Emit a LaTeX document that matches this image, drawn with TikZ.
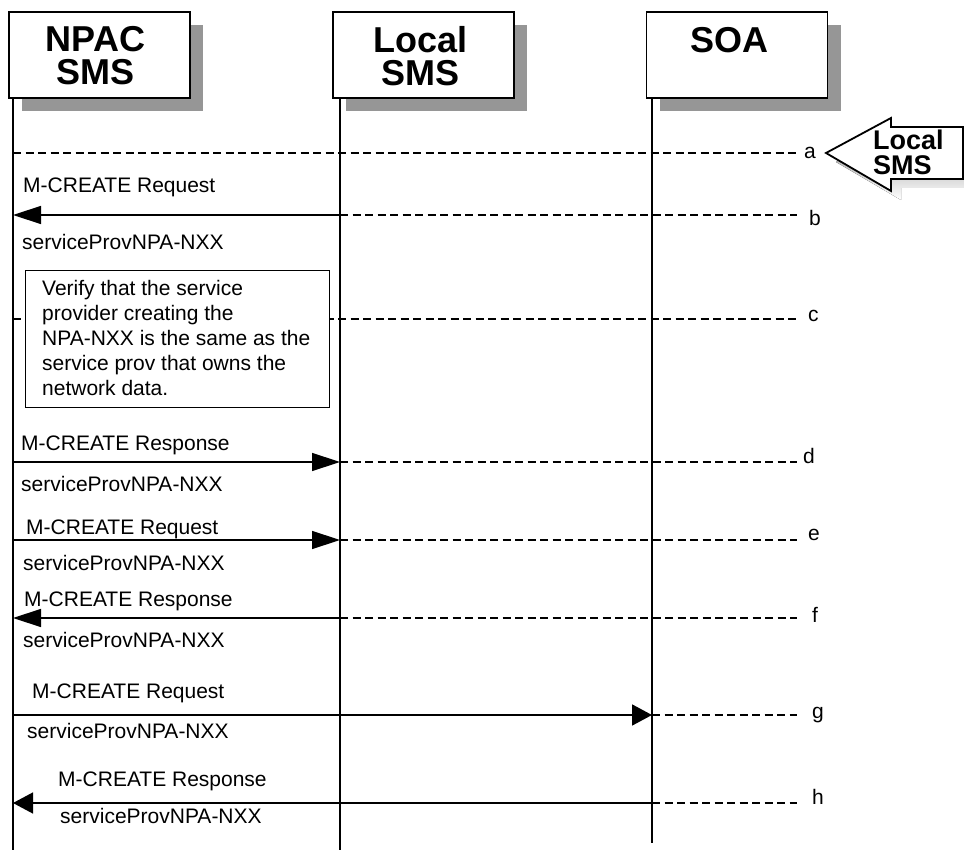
\documentclass[tikz,border=0pt]{standalone}
\usepackage{fontspec}
\setmainfont{Liberation Sans}
\usetikzlibrary{arrows.meta}
\definecolor{shade}{RGB}{150,150,150}
\tikzset{
  hdrbox/.style={draw=black, line width=1.8pt, fill=white, minimum width=181pt, minimum height=86pt, inner sep=0pt},
  hdrshadow/.style={fill=shade, draw=none, minimum width=181pt, minimum height=86pt, inner sep=0pt},
  hdrtext/.style={font=\bfseries\fontsize{36}{33}\selectfont, align=center, inner sep=0pt, anchor=north},
  life/.style={line width=1.3pt},
  msg/.style={line width=1.4pt},
  dsh/.style={line width=1.3pt, dash pattern=on 8pt off 4.5pt},
  bighead/.style={-{Triangle[length=28pt,width=18pt]}},
  smallhead/.style={-{Triangle[length=20pt,width=21pt]}},
  txt/.style={font=\fontsize{21}{25}\selectfont, inner sep=0pt, anchor=base west},
  notebox/.style={draw=black, line width=1.2pt, fill=white, anchor=north west, minimum width=304pt, minimum height=137pt, inner sep=0pt},
  notetext/.style={font=\fontsize{21}{25}\selectfont, align=left, inner sep=0pt, anchor=north west},
}
\begin{document}
\begin{tikzpicture}[x=1pt,y=-1pt]
\useasboundingbox (0,0) rectangle (964,850);
% header shadows
\node[hdrshadow] (npacsh) at (112.5,68) {};
\node[hdrshadow] (localsh) at (436.5,68) {};
\node[hdrshadow] (soash) at (750,68) {};
% header boxes
\node[hdrbox] (npac) at (99.5,55) {};
\node[hdrbox] (local) at (423.5,55) {};
\node[hdrbox] (soa) at (737,55) {};
\node[hdrtext] (npact) at ([xshift=-4pt,yshift=-15pt]npac.north) {NPAC\\SMS};
\node[hdrtext] (localt) at ([xshift=-3pt,yshift=-15pt]local.north) {Local\\SMS};
\node[hdrtext] (soat) at ([xshift=-8pt,yshift=-16pt]soa.north) {SOA};
% lifelines
\coordinate (npacEnd) at (13,850);
\coordinate (localEnd) at (340,850);
\coordinate (soaEnd) at (652,843);
\draw[life] (npac.south -| npacEnd) -- (npacEnd);
\draw[life] (local.south -| localEnd) -- (localEnd);
\draw[life] (soa.south -| soaEnd) -- (soaEnd);
% block arrow "Local SMS"
\begin{scope}[shift={(10,9)}]
  \fill[shade] (826,153) -- (891,118) -- (891,127) -- (963,127) -- (963,179) -- (891,179) -- (891,191) -- cycle;
\end{scope}
\draw[line width=1.8pt, fill=white] (826,153) -- (891,118) -- (891,127) -- (963,127) -- (963,179) -- (891,179) -- (891,191) -- cycle;
\node[font=\bfseries\fontsize{27}{25}\selectfont, align=left, inner sep=0pt, anchor=north west] (blk) at (873,130) {Local\\SMS};
% a
\coordinate (a0) at (13,153); \coordinate (a1) at (797,153);
\draw[dsh] (a0) -- (a1);
\node[txt] (la) at (804,159) {a};
% b
\coordinate (b0) at (13,215); \coordinate (b1) at (340,215); \coordinate (b2) at (797,215);
\draw[msg,bighead] (b1) -- (b0);
\draw[dsh] (b1) -- (b2);
\node[txt] (bt1) at (23,193) {M-CREATE Request};
\node[txt] (bt2) at (22,250) {serviceProvNPA-NXX};
\node[txt] (lb) at (809,226) {b};
% c
\coordinate (c0) at (13,319); \coordinate (c1) at (797,319);
\draw[dsh] (c0) -- (c1);
\node[notebox] (note) at (25,270) {};
\node[notetext] (notet) at (42,280) {Verify that the service\\provider creating the\\NPA-NXX is the same as the\\service prov that owns the\\network data.};
\node[txt] (lc) at (808,322) {c};
% d
\coordinate (d0) at (13,462); \coordinate (d1) at (340,462); \coordinate (d2) at (797,462);
\draw[msg,bighead] (d0) -- (d1);
\draw[dsh] (d1) -- (d2);
\node[txt] (dt1) at (21,450) {M-CREATE Response};
\node[txt] (dt2) at (21,491) {serviceProvNPA-NXX};
\node[txt] (ld) at (803,463) {d};
% e
\coordinate (e0) at (13,540); \coordinate (e1) at (340,540); \coordinate (e2) at (797,540);
\draw[msg,bighead] (e0) -- (e1);
\draw[dsh] (e1) -- (e2);
\node[txt] (et1) at (26,534) {M-CREATE Request};
\node[txt] (et2) at (23,570) {serviceProvNPA-NXX};
\node[txt] (le) at (808,540) {e};
% f
\coordinate (f0) at (13,618); \coordinate (f1) at (340,618); \coordinate (f2) at (797,618);
\draw[msg,bighead] (f1) -- (f0);
\draw[dsh] (f1) -- (f2);
\node[txt] (ft1) at (24,606) {M-CREATE Response};
\node[txt] (ft2) at (23,647) {serviceProvNPA-NXX};
\node[txt] (lf) at (812,622) {f};
% g
\coordinate (g0) at (13,715); \coordinate (g1) at (652,715); \coordinate (g2) at (797,715);
\draw[msg,line width=1.8pt,smallhead] (g0) -- (g1);
\draw[dsh] (g1) -- (g2);
\node[txt] (gt1) at (32,698) {M-CREATE Request};
\node[txt] (gt2) at (27,738) {serviceProvNPA-NXX};
\node[txt] (lg) at (812,718) {g};
% h
\coordinate (h0) at (13,803); \coordinate (h1) at (652,803); \coordinate (h2) at (797,803);
\draw[msg,smallhead] (h1) -- (h0);
\draw[dsh] (h1) -- (h2);
\node[txt] (ht1) at (58,786) {M-CREATE Response};
\node[txt] (ht2) at (60,823) {serviceProvNPA-NXX};
\node[txt] (lh) at (812,804) {h};
\end{tikzpicture}
\end{document}
